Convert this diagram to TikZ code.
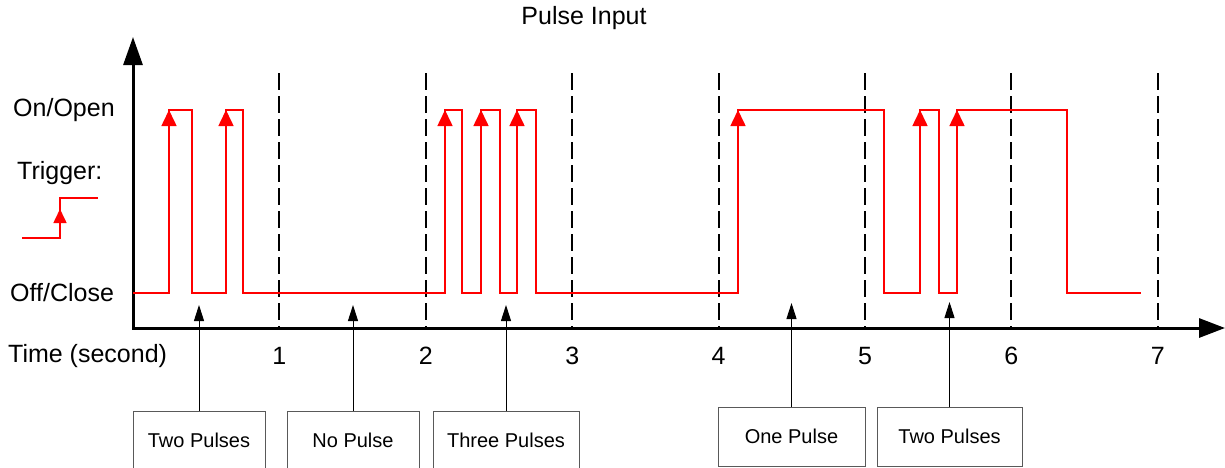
\documentclass[tikz,border=0pt]{standalone}
\usepackage{fontspec}
\setmainfont{Liberation Sans}
\usetikzlibrary{arrows.meta,positioning}

\begin{document}
\begin{tikzpicture}[x=1pt,y=-1pt,font=\fontsize{25}{30}\selectfont]
  \tikzstyle{pulse}=[red,line width=1.6pt]
  \tikzstyle{rise}=[red,line width=1.6pt,-{Triangle[width=15pt,length=16pt]}]
  \tikzstyle{axis}=[line width=3pt,{Triangle[width=19pt,length=28pt]}-{Triangle[width=19pt,length=26pt]}]
  \tikzstyle{grid}=[line width=2pt,dash pattern=on 17pt off 6pt]
  \tikzstyle{pulsebox}=[draw=black!65,line width=1pt,minimum height=59pt,font=\fontsize{20}{24}\selectfont]
  \tikzstyle{tag}=[anchor=west,inner sep=0pt]
  \tikzstyle{note}=[line width=1pt,-{Triangle[width=10pt,length=16pt]}]

  \useasboundingbox (0,0) rectangle (1225,467);

  % time grid
  \foreach \t in {1,...,7} {
    \draw[grid] ({133+146.4*\t},73) -- ({133+146.4*\t},328);
    \node at ({133+146.4*\t},356) {\t};
  }
  \draw[axis] (133,37) -- (133,328) -- (1225,328);

  \node (title) at (584,18) {Pulse Input};
  \node[tag] (on)      at (13,110) {On/Open};
  \node[tag] (trigger) at (17,173) {Trigger:};
  \node[tag] (off)     at (10,293) {Off/Close};
  \node[tag] (time)    at (8,356)  {Time (second)};

  % trigger symbol
  \draw[pulse] (22,238) -| (60,198) -- (98,198);
  \draw[red,line width=1.6pt,-{Triangle[width=13pt,length=14pt]}] (60,238) -- (60,209);

  % input signal
  \draw[pulse] (133,293) -- (169,293) |- (192,110) |- (226,293) |- (243,110)
    |- (445,293) |- (462,110) |- (481,293) |- (500,110) |- (517,293) |- (536,110)
    |- (738,293) |- (884,110) |- (920,293) |- (939,110) |- (957,293) |- (1067,110)
    |- (1141,293);
  \foreach \x in {169,226,445,481,517,738,920,957}
    \draw[rise] (\x,293) -- (\x,110);

  % notes
  \node[pulsebox,minimum width=132pt] (two_a) at (199,440.5)   {Two Pulses};
  \node[pulsebox,minimum width=132pt] (none)  at (353,440.5)   {No Pulse};
  \node[pulsebox,minimum width=146pt] (three) at (506,440.5)   {Three Pulses};
  \node[pulsebox,minimum width=147pt] (one)   at (791.5,436.5) {One Pulse};
  \node[pulsebox,minimum width=145pt] (two_b) at (949.5,436.5) {Two Pulses};

  \coordinate (p_a) at (199,305);
  \coordinate (p_b) at (353,305);
  \coordinate (p_c) at (506,305);
  \coordinate (p_d) at (791.5,303);
  \coordinate (p_e) at (949.5,302);

  \path[note]
  (two_a) edge (p_a)
  (none)  edge (p_b)
  (three) edge (p_c)
  (one)   edge (p_d)
  (two_b) edge (p_e);
\end{tikzpicture}
\end{document}
